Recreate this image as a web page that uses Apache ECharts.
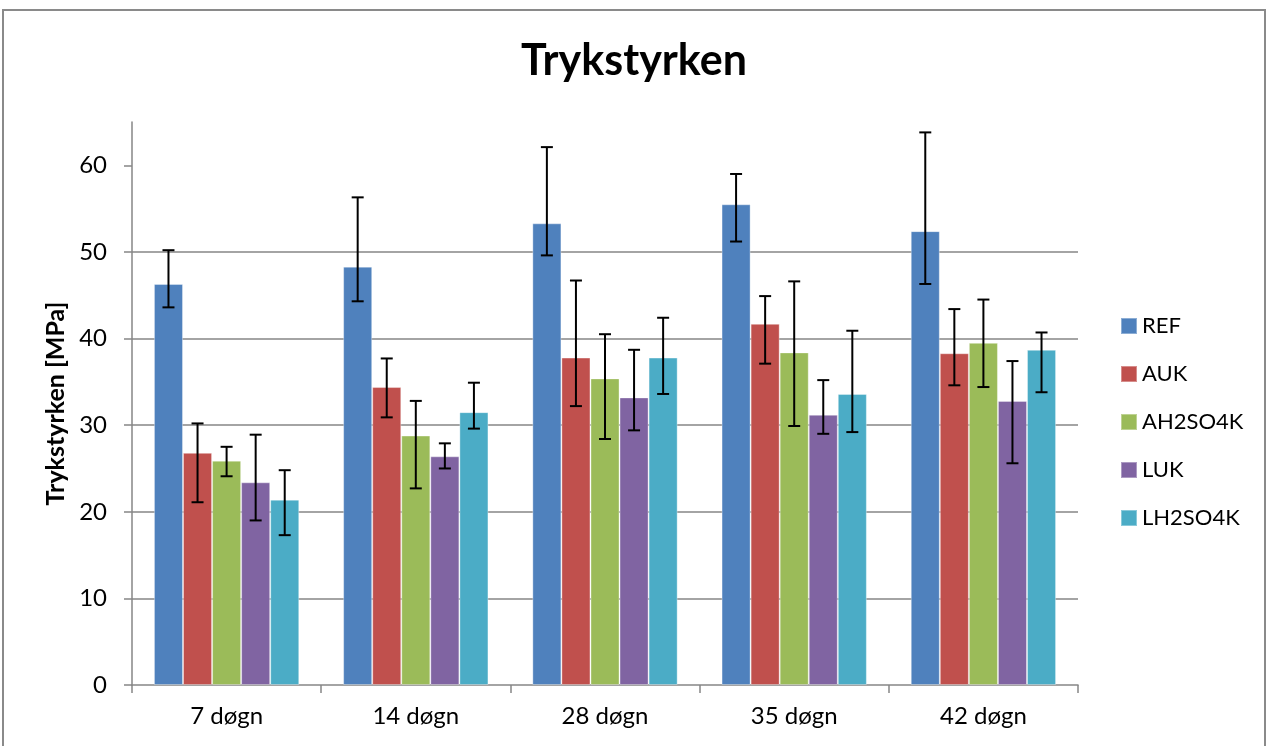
<!DOCTYPE html>
<html>
<head>
<meta charset="utf-8">
<script src="https://cdn.jsdelivr.net/npm/echarts@6/dist/echarts.min.js"></script>
<style>html,body{margin:0;padding:0;background:#fff;}#c{width:1268px;height:746px;}</style>
</head>
<body>
<div id="c"></div>
<script>
var categories = ['7 døgn', '14 døgn', '28 døgn', '35 døgn', '42 døgn'];
var seriesNames = ['REF', 'AUK', 'AH2SO4K', 'LUK', 'LH2SO4K'];
var colors = ['#4F81BD', '#C0504D', '#9BBB59', '#8064A2', '#4BACC6'];

var REF      = [46.3, 48.3, 53.3, 55.5, 52.4];
var AUK      = [26.8, 34.4, 37.8, 41.7, 38.3];
var AH2SO4K  = [25.9, 28.8, 35.4, 38.4, 39.5];
var LUK      = [23.4, 26.4, 33.2, 31.2, 32.8];
var LH2SO4K  = [21.4, 31.5, 37.8, 33.6, 38.7];

// error bar ends (upper / lower)
var REF_hi     = [50.2, 56.3, 62.1, 59.0, 63.8];
var REF_lo     = [43.6, 44.3, 49.6, 51.2, 46.3];
var AUK_hi     = [30.2, 37.7, 46.7, 44.9, 43.4];
var AUK_lo     = [21.1, 30.9, 32.2, 37.1, 34.6];
var AH2SO4K_hi = [27.5, 32.8, 40.5, 46.6, 44.5];
var AH2SO4K_lo = [24.1, 22.7, 28.4, 29.9, 34.4];
var LUK_hi     = [28.9, 27.9, 38.7, 35.2, 37.4];
var LUK_lo     = [19.0, 25.0, 29.4, 29.0, 25.6];
var LH2SO4K_hi = [24.8, 34.9, 42.4, 40.9, 40.7];
var LH2SO4K_lo = [17.3, 29.6, 33.6, 29.2, 33.8];

var yTicks = [0, 10, 20, 30, 40, 50, 60];

var values = [REF, AUK, AH2SO4K, LUK, LH2SO4K];
var highs = [REF_hi, AUK_hi, AH2SO4K_hi, LUK_hi, LH2SO4K_hi];
var lows = [REF_lo, AUK_lo, AH2SO4K_lo, LUK_lo, LH2SO4K_lo];
var CAT_GAP = 0.232;

var errData = [];
for (var s = 0; s < seriesNames.length; s++) {
  for (var c = 0; c < categories.length; c++) {
    errData.push([c, lows[s][c], highs[s][c], s]);
  }
}

var series = seriesNames.map(function (n, i) {
  return {
    name: n,
    type: 'bar',
    data: values[i],
    barGap: '0%',
    barCategoryGap: (CAT_GAP * 100) + '%',
    itemStyle: { color: colors[i], borderColor: 'rgba(255,255,255,0.35)', borderWidth: 1 },
    z: 2
  };
});

series.push({
  type: 'custom',
  name: 'err',
  data: errData,
  encode: { x: 0, y: [1, 2] },
  z: 5,
  silent: true,
  renderItem: function (params, api) {
    var ci = api.value(0), lo = api.value(1), hi = api.value(2), si = api.value(3);
    var band = api.size([1, 0])[0];
    var bw = band * (1 - CAT_GAP) / seriesNames.length;
    var cx = api.coord([ci, 0])[0] + (si - (seriesNames.length - 1) / 2) * bw;
    var yl = api.coord([ci, lo])[1];
    var yh = api.coord([ci, hi])[1];
    var cap = 6;
    var st = { stroke: '#000', lineWidth: 2 };
    return {
      type: 'group',
      children: [
        { type: 'line', shape: { x1: cx, y1: yl, x2: cx, y2: yh }, style: st },
        { type: 'line', shape: { x1: cx - cap, y1: yh, x2: cx + cap, y2: yh }, style: st },
        { type: 'line', shape: { x1: cx - cap, y1: yl, x2: cx + cap, y2: yl }, style: st }
      ]
    };
  }
});

var chart = echarts.init(document.getElementById('c'), null, { renderer: 'canvas' });
chart.setOption({
  animation: false,
  color: colors,
  textStyle: { fontFamily: 'Lato' },
  title: {
    text: 'Trykstyrken',
    left: 'center',
    top: 40,
    padding: 0,
    textStyle: { fontFamily: 'Lato', fontWeight: 'bold', fontSize: 43, color: '#000' }
  },
  graphic: [{
    type: 'rect',
    shape: { x: 3, y: 10, width: 1262, height: 800 },
    style: { fill: 'none', stroke: '#8a8a8a', lineWidth: 2 },
    silent: true,
    z: -1
  }],
  legend: {
    orient: 'vertical',
    left: 1120,
    top: 315,
    padding: 0,
    itemWidth: 16,
    itemHeight: 16,
    itemGap: 26,
    icon: 'rect',
    data: seriesNames,
    textStyle: { fontFamily: 'Lato', fontSize: 22, color: '#000', padding: [0, 0, 0, 0] }
  },
  grid: { left: 132, right: 190, top: 122, bottom: 61, containLabel: false },
  xAxis: {
    type: 'category',
    data: categories,
    axisLine: { lineStyle: { color: '#868686', width: 1.5 } },
    axisTick: { show: true, length: 8, lineStyle: { color: '#868686', width: 1.5 } },
    axisLabel: { fontFamily: 'Lato', fontSize: 24, color: '#000', margin: 19 }
  },
  yAxis: {
    type: 'value',
    min: 0,
    max: 65,
    interval: 10,
    name: 'Trykstyrken [MPa]',
    nameLocation: 'middle',
    nameGap: 61,
    nameTextStyle: { fontFamily: 'Lato', fontWeight: 'bold', fontSize: 25, color: '#000' },
    axisLine: { show: true, lineStyle: { color: '#868686', width: 1.5 } },
    axisTick: { show: true, inside: false, length: 8, customValues: yTicks, lineStyle: { color: '#868686', width: 1.5 } },
    axisLabel: { fontFamily: 'Lato', fontSize: 24, color: '#000', margin: 25, customValues: yTicks },
    splitLine: { show: true, showMinLine: false, showMaxLine: false, lineStyle: { color: '#868686', width: 1.5 } }
  },
  series: series
});
</script>
</body>
</html>
